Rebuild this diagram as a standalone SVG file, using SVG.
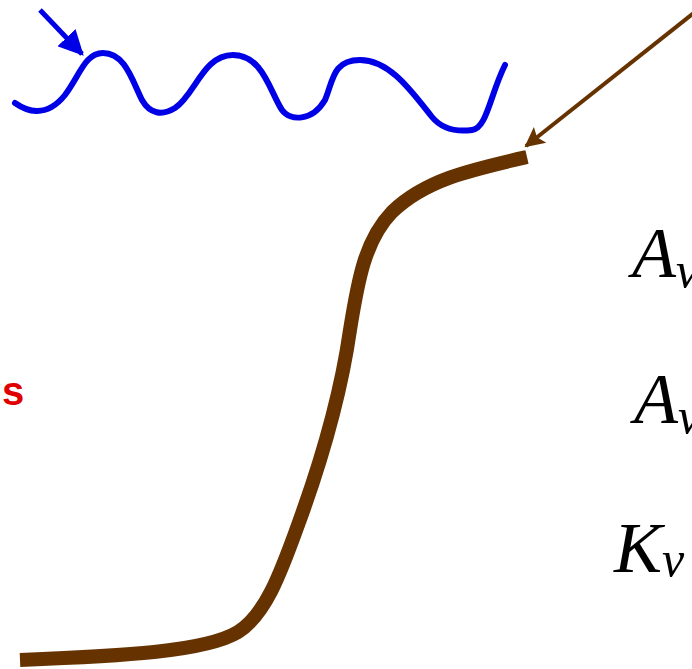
<svg xmlns="http://www.w3.org/2000/svg" width="692" height="669" viewBox="0 0 692 669">
<style>
.math{font-family:"Liberation Serif","DejaVu Serif",serif;font-style:italic;fill:#000}
.brown{stroke:#663300;fill:none}
.blue{stroke:#0000e6;fill:none}
</style>
<defs>
<marker id="ab" viewBox="0 0 10 10" refX="9" refY="5" markerWidth="5" markerHeight="5" orient="auto" markerUnits="strokeWidth"><path d="M0,0 L10,5 L0,10 Z" fill="#0000e6"/></marker>
<marker id="abr" viewBox="0 0 10 10" refX="9" refY="5" markerWidth="5.5" markerHeight="5" orient="auto" markerUnits="strokeWidth"><path d="M0,0 L10,5 L0,10 L2,5 Z" fill="#663300"/></marker>
</defs>
<rect width="692" height="669" fill="#fff"/>
<g id="wave">
<path class="blue" stroke-width="6" stroke-linecap="round" d="M15,103 C25,110 45,120 65,95 C80,75 85,53 103,53 C125,53 132,80 142,100 C150,114 162,116 175,108 C195,95 203,55 233,55 C263,55 270,92 282,110 C290,121 312,122 325,100 C333,82 332,60 360,60 C390,60 412,92 432,117 C442,129 457,132 472,130 C487,128 490,95 505,65"/>
</g>
<g id="curve">
<path class="brown" stroke-width="14" d="M20,660 C120,656 205,652 238,632 C265,615 280,575 298,525 C320,465 340,400 350,330 C358,280 365,240 392,212 C425,180 470,170 527,157"/>
</g>
<g id="connectors">
<path class="blue" stroke-width="5" marker-end="url(#ab)" d="M40,10 L82,54"/>
<path class="brown" stroke-width="4" marker-end="url(#abr)" d="M695,12 L526,146"/>
</g>
<g id="labels">
<text x="2" y="405" font-family="Liberation Sans, Arial, sans-serif" font-weight="bold" font-size="40" fill="#e00000">s</text>
<text class="math" x="632" y="277" font-size="72">A<tspan font-size="50" dy="10">v</tspan></text>
<text class="math" x="634" y="423" font-size="72">A<tspan font-size="50" dy="10">v</tspan></text>
<text class="math" x="614" y="572" font-size="72">K<tspan font-size="50" dy="4">v</tspan></text>
</g>
</svg>
